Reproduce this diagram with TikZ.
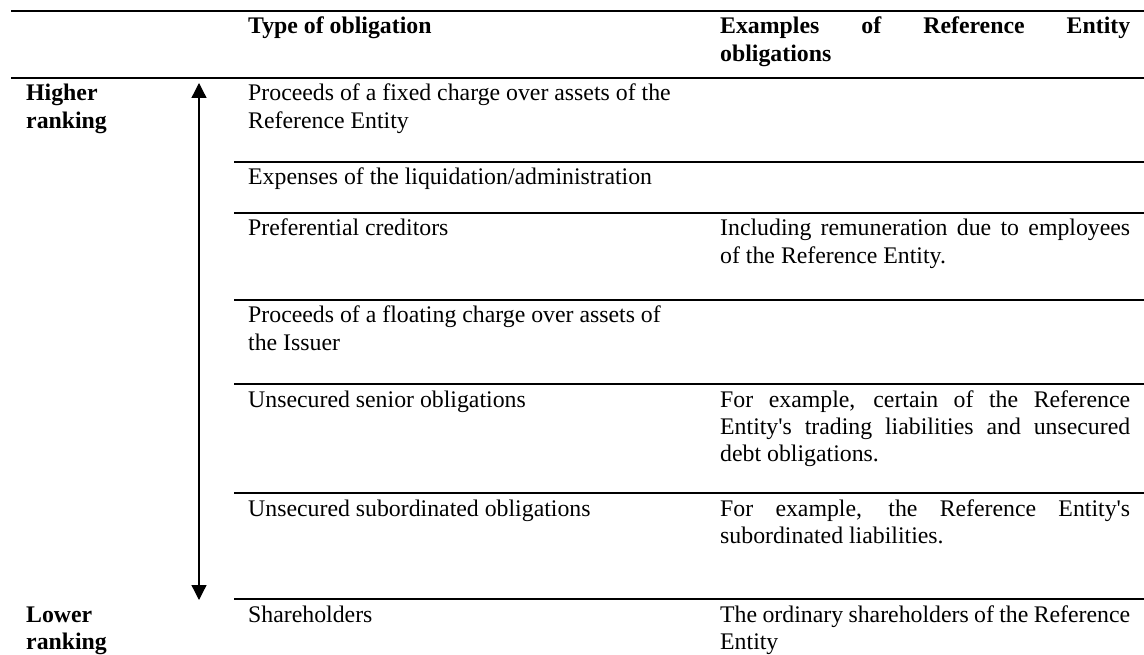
\documentclass[tikz,border=0pt]{standalone}
\usepackage{fontspec}
\setmainfont{Liberation Serif}
\usetikzlibrary{arrows.meta}
\hyphenpenalty=10000
\exhyphenpenalty=10000

\begin{document}
\begin{tikzpicture}[x=1pt,y=-1pt,
	txt/.style={anchor=base west,inner sep=0pt,font=\fontsize{23.8}{27.4}\selectfont},
	hd/.style={txt,font=\fontsize{23.8}{27.4}\selectfont\bfseries},
	obl/.style={txt,text width=432pt,align=flush left},
	ex/.style={txt,text width=410pt,align=justify},
	rule/.style={line width=1.3pt},
	rank/.style={rule,{Triangle[width=15pt,length=15pt]}-{Triangle[width=15pt,length=15pt]}}]
	\useasboundingbox (0,0) rectangle (1144,655);
	\draw[rule] (11,11)--(1144,11);
	\draw[rule] (11,78)--(1144,78);
	\foreach \y in {162,213,300,384,493,599}
		\draw[rule] (234,\y)--(1144,\y);
	% heading
	\node[hd,text width=432pt,align=flush left] (htype) at (248,34) {Type of obligation};
	\node[hd,text width=410pt,align=justify] (hex) at (720,34) {Examples of Reference Entity obligations};
	% ranking
	\node[hd,text width=150pt,align=flush left] (higher) at (26,101) {Higher\\ranking};
	\node[hd,text width=150pt,align=flush left] (lower) at (26,622) {Lower\\ranking};
	\coordinate (hi) at (199,83);
	\coordinate (lo) at (199,600);
	\draw[rank] (hi)--(lo);
	% rows
	\node[obl] (fixed) at (248,101) {Proceeds of a fixed charge over assets of the Reference Entity};
	\node[obl] (costs) at (248,185) {Expenses of the liquidation/administration};
	\node[obl] (pref) at (248,236) {Preferential creditors};
	\node[ex] (prefex) at (720,236) {Including remuneration due to employees of the Reference Entity.};
	\node[obl] (float) at (248,323) {Proceeds of a floating charge over assets of the Issuer};
	\node[obl] (senior) at (248,407) {Unsecured senior obligations};
	\node[ex] (seniorex) at (720,407) {For example, certain of the Reference Entity\textquotesingle s trading liabilities and unsecured debt obligations.};
	\node[obl] (sub) at (248,516) {Unsecured subordinated obligations};
	\node[ex] (subex) at (720,516) {For example, the Reference Entity\textquotesingle s subordinated liabilities.};
	\node[obl] (share) at (248,622) {Shareholders};
	\node[ex] (shareex) at (720,622) {The ordinary shareholders of the Reference Entity};
\end{tikzpicture}
\end{document}
